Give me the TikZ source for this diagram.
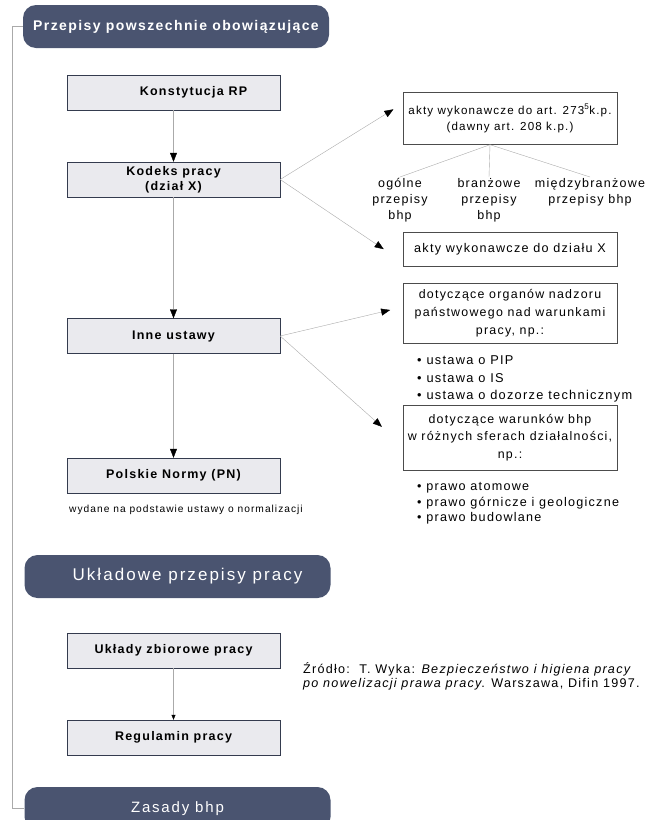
\documentclass[tikz,border=0pt]{standalone}
\usepackage{fontspec}
\setmainfont{Liberation Sans}[LetterSpace=10]
\usepackage{xcolor}
\usetikzlibrary{arrows.meta}
\definecolor{granat}{RGB}{74,84,112}
\definecolor{jasny}{RGB}{234,234,238}
\definecolor{linia}{RGB}{170,170,170}

\tikzset{
    naglowek/.style={fill=granat, rounded corners=13pt, text=white, minimum width=306pt, minimum height=43pt, inner sep=0pt},
    blok/.style={draw=granat!70!black, fill=jasny, minimum width=213pt, minimum height=35pt, inner sep=0pt, align=center, font=\fontsize{12.5}{15}\selectfont\bfseries},
    akt/.style={draw=black!70, fill=white, minimum width=214pt, inner sep=0pt, align=center},
    opis/.style={align=center, inner sep=1pt, font=\fontsize{12.5}{16}\selectfont},
    lista/.style={align=left, anchor=north west, inner sep=0pt},
    strzalka/.style={draw=linia, -{Triangle[black, length=9pt, width=7pt]}},
}

\begin{document}
\begin{tikzpicture}[x=1pt, y=-1pt]
    % Parametry
    \pgfmathsetmacro{\xl}{173.5}
    \pgfmathsetmacro{\xp}{510}
    \useasboundingbox (0,0) rectangle (645,820);
    % Naglowki
    \node[naglowek, font=\fontsize{14}{16}\selectfont\bfseries] (powsz) at (176,26.5) {Przepisy powszechnie obowiązujące};
    \node[naglowek, font=\fontsize{17}{19}\selectfont\addfontfeature{LetterSpace=12}] (ukl) at (177.5,576.5) {\hspace*{20pt}Układowe przepisy pracy};
    \node[naglowek, font=\fontsize{15}{19}\selectfont\addfontfeature{LetterSpace=12}] (zas) at (177.5,808.5) {Zasady bhp};
    \draw[linia] (powsz.west) -- ++(-11,0) |- (zas.west);
    % Lewa kolumna
    \node[blok] (konst) at (\xl,92.5) {\hspace*{40pt}Konstytucja RP};
    \node[blok] (kodeks) at (\xl,179.5) {Kodeks pracy\\(dział X)};
    \node[blok] (inne) at (\xl,336) {Inne ustawy};
    \node[blok] (pn) at (\xl,475.5) {Polskie Normy (PN)};
    \node[inner sep=0pt, font=\fontsize{10.2}{12}\selectfont] (pnopis) at (186,510) {wydane na podstawie ustawy o normalizacji};
    \node[blok] (zbior) at (\xl,650.5) {Układy zbiorowe pracy};
    \node[blok] (regul) at (\xl,737.5) {Regulamin pracy};
    % Prawa kolumna
    \node[akt, minimum height=52pt, font=\fontsize{11.6}{16}\selectfont] (akty1) at (\xp,118.5) {akty wykonawcze do art. 273\textsuperscript{5}k.p.\\(dawny art. 208 k.p.)};
    \node[opis, anchor=north] (ogolne) at (400,177) {ogólne\\przepisy\\bhp};
    \node[opis, anchor=north] (branz) at (489,177) {branżowe\\przepisy\\bhp};
    \node[opis, anchor=north] (miedzy) at (590,177) {międzybranżowe\\przepisy bhp};
    \node[akt, minimum height=34pt, font=\fontsize{12.6}{16}\selectfont] (akty2) at (\xp,249) {akty wykonawcze do działu X};
    \node[akt, minimum height=60pt, font=\fontsize{12.4}{18}\selectfont] (organy) at (\xp,313) {dotyczące organów nadzoru\\państwowego nad warunkami\\pracy, np.:};
    \node[lista, font=\fontsize{12.8}{17.5}\selectfont] (ustawy) at (417,355.5) {• ustawa o PIP\\• ustawa o IS\\• ustawa o dozorze technicznym};
    \node[akt, minimum height=65pt, font=\fontsize{12.4}{17.5}\selectfont] (warunki) at (\xp,437.5) {dotyczące warunków bhp\\w różnych sferach działalności,\\np.:};
    \node[lista, font=\fontsize{12.6}{15.5}\selectfont] (prawa) at (417,482.5) {• prawo atomowe\\• prawo górnicze i geologiczne\\• prawo budowlane};
    % Zrodlo
    \node[lista, font=\fontsize{12.6}{14}\selectfont] (zrodlo) at (303,662) {Źródło:~~T. Wyka: \textit{Bezpieczeństwo i higiena pracy}\\\textit{po nowelizacji prawa pracy}. Warszawa, Difin 1997.};
    % Strzalki
    \draw[strzalka] (konst) -- (kodeks);
    \draw[strzalka] (kodeks) -- (inne);
    \draw[strzalka] (inne) -- (pn);
    \draw[draw=linia, -{Triangle[black, length=5pt, width=4pt]}] (zbior) -- (regul);
    \draw[strzalka, shorten >=11pt] (kodeks.east) -- ([yshift=15pt]akty1.west);
    \draw[strzalka, shorten >=23pt] (kodeks.east) -- ([yshift=-13pt]akty2.west);
    \draw[strzalka, shorten >=13pt] (inne.east) -- ([yshift=6pt]organy.west);
    \draw[strzalka, shorten >=28pt] (inne.east) -- ([yshift=-8pt]warunki.west);
    \foreach \n in {ogolne,branz,miedzy}{
        \draw[linia] ([xshift=-20pt]akty1.south) -- (\n.north);
    }
\end{tikzpicture}
\end{document}
